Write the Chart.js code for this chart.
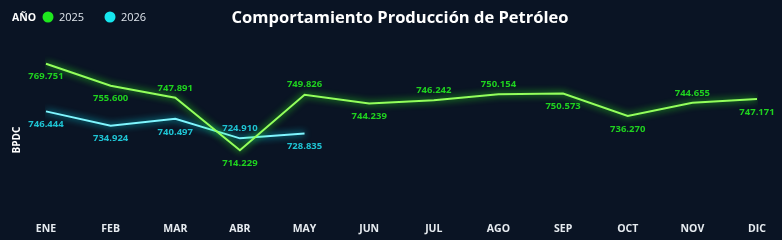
<!DOCTYPE html>
<html>
<head>
<meta charset="utf-8">
<script src="https://cdn.jsdelivr.net/npm/chart.js@4.4.1/dist/chart.umd.min.js"></script>
<style>
  html, body { margin: 0; padding: 0; background: #0a1424; }
  #wrap { width: 782px; height: 240px; position: relative; }
</style>
</head>
<body>
<div id="wrap"><canvas id="chart"></canvas></div>
<script>
// data
const months = ["ENE", "FEB", "MAR", "ABR", "MAY", "JUN", "JUL", "AGO", "SEP", "OCT", "NOV", "DIC"];
const prod2025 = [769.751, 755.600, 747.891, 714.229, 749.826, 744.239, 746.242, 750.154, 750.573, 736.270, 744.655, 747.171];
const prod2026 = [746.444, 734.924, 740.497, 724.910, 728.835];
const seriesNames = ["2025", "2026"];

// label placement (1 = below the point, -1 = above)
const side2025 = [1, 1, -1, 1, -1, 1, -1, -1, 1, 1, -1, 1];
const side2026 = [1, 1, 1, -1, 1];

const title = "Comportamiento Producción de Petróleo";
const fontFam = "'Open Sans', 'DejaVu Sans', sans-serif";

// glow on lines
const glowPlugin = {
  id: "glow",
  beforeDatasetDraw(chart, args) {
    const ds = chart.data.datasets[args.index];
    chart.ctx.save();
    chart.ctx.shadowColor = ds.glowColor;
    chart.ctx.shadowBlur = 7;
  },
  afterDatasetDraw(chart) {
    chart.ctx.restore();
  }
};

// value labels, legend, title and axis name
const decorPlugin = {
  id: "decor",
  afterDatasetsDraw(chart) {
    const ctx = chart.ctx;
    ctx.save();
    ctx.font = "bold 9.5px " + fontFam;
    ctx.textAlign = "center";
    ctx.textBaseline = "middle";
    chart.data.datasets.forEach((ds, i) => {
      const meta = chart.getDatasetMeta(i);
      ctx.fillStyle = ds.textColor;
      meta.data.forEach((pt, j) => {
        const s = ds.sides[j];
        const dy = s > 0 ? 13 : -10;
        ctx.fillText(ds.data[j].toFixed(3), pt.x, pt.y + dy);
      });
    });

    // title
    ctx.fillStyle = "#ffffff";
    ctx.font = "bold 16.5px " + fontFam;
    ctx.fillText(title, 400, 18);

    // legend
    ctx.textAlign = "left";
    ctx.font = "bold 10.5px " + fontFam;
    ctx.fillText("AÑO", 12, 18);
    let x = 48;
    chart.data.datasets.forEach((ds) => {
      ctx.beginPath();
      ctx.arc(x, 17, 5.5, 0, Math.PI * 2);
      ctx.fillStyle = ds.dotColor;
      ctx.fill();
      ctx.fillStyle = "#dfe5ec";
      ctx.font = "11px " + fontFam;
      ctx.fillText(ds.label, x + 11, 18);
      x += 62;
    });

    // y axis name
    ctx.translate(17, 140);
    ctx.rotate(-Math.PI / 2);
    ctx.textAlign = "center";
    ctx.fillStyle = "#ffffff";
    ctx.font = "bold 10px " + fontFam;
    ctx.fillText("BPDC", 0, 0);
    ctx.restore();
  }
};

new Chart(document.getElementById("chart"), {
  type: "line",
  data: {
    labels: months,
    datasets: [
      {
        label: seriesNames[0],
        data: prod2025,
        yAxisID: "y",
        borderColor: "#93ff5c",
        glowColor: "#2cff1a",
        textColor: "#1fd21f",
        dotColor: "#1ee81e",
        sides: side2025,
        borderWidth: 2,
        pointRadius: 0,
        tension: 0
      },
      {
        label: seriesNames[1],
        data: prod2026,
        yAxisID: "y2",
        borderColor: "#7ff6ff",
        glowColor: "#00e1f0",
        textColor: "#1ec3d3",
        dotColor: "#16e6ee",
        sides: side2026,
        borderWidth: 2,
        pointRadius: 0,
        tension: 0
      }
    ]
  },
  options: {
    responsive: true,
    maintainAspectRatio: false,
    animation: false,
    layout: {
      padding: { top: 40, bottom: -7, left: 46, right: 25 }
    },
    plugins: {
      legend: { display: false },
      title: { display: false },
      tooltip: { enabled: false }
    },
    scales: {
      x: {
        offset: false,
        grid: { display: false, drawTicks: false },
        border: { display: false },
        ticks: {
          color: "#e6ebf0",
          padding: 12,
          font: { family: fontFam, size: 10.5, weight: "bold" },
          maxRotation: 0,
          autoSkip: false
        }
      },
      y: {
        display: false,
        min: 675.6,
        max: 785.0
      },
      y2: {
        display: false,
        min: 667.4,
        max: 803.4
      }
    }
  },
  plugins: [glowPlugin, decorPlugin]
});
</script>
</body>
</html>
